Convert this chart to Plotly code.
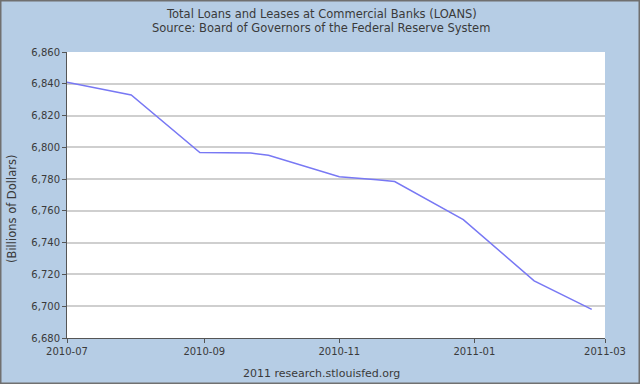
import plotly.graph_objects as go

dates = ["2010-07-01", "2010-07-30", "2010-08-30", "2010-09-22", "2010-09-30",
         "2010-11-01", "2010-11-18", "2010-11-26", "2010-12-27", "2011-01-28", "2011-02-23"]
loans = [6841, 6833, 6796.7, 6796.4, 6795, 6781.5, 6779.6, 6778.5, 6754.5, 6716, 6698]

y_ticks = [6680, 6700, 6720, 6740, 6760, 6780, 6800, 6820, 6840, 6860]
x_ticks = ["2010-07-01", "2010-09-01", "2010-11-01", "2011-01-01", "2011-03-01"]
x_tick_labels = ["2010-07", "2010-09", "2010-11", "2011-01", "2011-03"]

title_lines = ["Total Loans and Leases at Commercial Banks (LOANS)",
               "Source: Board of Governors of the Federal Reserve System"]
y_title = "(Billions of Dollars)"
footer = "2011 research.stlouisfed.org"

font_family = "DejaVu Sans, Arial, sans-serif"
text_color = "#3a3a3a"

W, H = 640, 384
ML, MR, MT, MB = 67, 35, 52, 46

fig = go.Figure()
fig.add_trace(go.Scatter(x=dates, y=loans, mode="lines",
                         line=dict(color="#7878f4", width=1.5), showlegend=False,
                         hoverinfo="skip"))

fig.update_layout(
    width=W, height=H,
    margin=dict(l=ML, r=MR, t=MT, b=MB),
    paper_bgcolor="#b6cde5",
    plot_bgcolor="#ffffff",
    font=dict(family=font_family, size=10, color=text_color),
    xaxis=dict(
        range=["2010-07-01", "2011-03-01"],
        tickmode="array", tickvals=x_ticks, ticktext=x_tick_labels,
        showgrid=False, zeroline=False,
        showline=True, linecolor="#555555", linewidth=1,
        ticks="outside", ticklen=4, tickcolor="#555555",
        tickfont=dict(size=10, color=text_color),
    ),
    yaxis=dict(
        range=[6680, 6860],
        tickmode="array", tickvals=y_ticks,
        ticktext=[f"{v:,}" for v in y_ticks],
        showgrid=True, gridcolor="#cfcfcf", gridwidth=1.5,
        zeroline=False,
        showline=True, linecolor="#555555", linewidth=1,
        ticks="outside", ticklen=4, tickcolor="#555555",
        tickfont=dict(size=10, color=text_color),
    ),
)


def px_x(x):
    return (x - ML) / (W - ML - MR)


def px_y(y):
    return (H - MB - y) / (H - MT - MB)


fig.add_annotation(text=title_lines[0], x=px_x(321), y=px_y(14), xref="paper", yref="paper",
                   xanchor="center", yanchor="middle", showarrow=False,
                   font=dict(size=11.5, color=text_color))
fig.add_annotation(text=title_lines[1], x=px_x(321), y=px_y(28), xref="paper", yref="paper",
                   xanchor="center", yanchor="middle", showarrow=False,
                   font=dict(size=11.5, color=text_color))
fig.add_annotation(text=y_title, x=px_x(12), y=px_y(209), xref="paper", yref="paper",
                   xanchor="center", yanchor="middle", showarrow=False, textangle=-90,
                   font=dict(size=11.5, color=text_color))
fig.add_annotation(text=footer, x=px_x(321), y=px_y(373), xref="paper", yref="paper",
                   xanchor="center", yanchor="middle", showarrow=False,
                   font=dict(size=11, color=text_color))

# outer border
fig.add_shape(type="rect", xref="paper", yref="paper",
              x0=px_x(0.75), x1=px_x(639.25), y0=px_y(0.75), y1=px_y(383.25),
              line=dict(color="#707070", width=1.5), layer="above")

fig.write_html("out.html", config={"displayModeBar": False},
               post_script="document.body.style.margin='0';document.body.style.padding='0';")
